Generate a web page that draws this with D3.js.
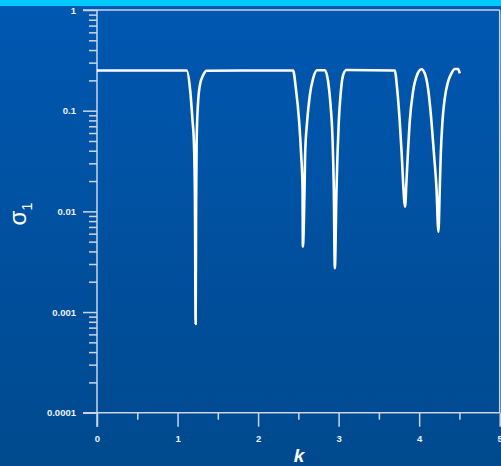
<!DOCTYPE html>
<html>
<head>
<meta charset="utf-8">
<script src="https://cdn.jsdelivr.net/npm/d3@7"></script>
<style>
  html, body { margin: 0; padding: 0; overflow: hidden; }
  svg { display: block; }
</style>
</head>
<body>
<script>
// Wave number k and the singular value sigma_1 (log scale)
const kValues = [
  0, 1.113, 1.154, 1.187, 1.203, 1.216, 1.2246, 1.231, 1.237, 1.253, 1.278, 1.319, 1.361,
  2.435, 2.469, 2.510, 2.535, 2.552, 2.556, 2.577, 2.584, 2.609, 2.643, 2.684, 2.733,
  2.829, 2.870, 2.900, 2.924, 2.940, 2.953, 2.974, 2.986, 3.002, 3.024, 3.056, 3.098,
  3.697, 3.726, 3.759, 3.784, 3.800, 3.825, 3.842, 3.859, 3.883, 3.924, 3.974, 4.029,
  4.069, 4.110, 4.153, 4.185, 4.215, 4.239, 4.256, 4.268, 4.289, 4.318, 4.359, 4.401,
  4.442, 4.483, 4.504
];
const sigmaValues = [
  0.2506, 0.2506, 0.168, 0.0778, 0.0492, 0.0130, 0.000762, 0.0130, 0.0492, 0.1139, 0.180, 0.226, 0.2495,
  0.2506, 0.167, 0.0778, 0.0363, 0.01707, 0.00446, 0.01707, 0.0363, 0.0778, 0.1432, 0.2098, 0.2518,
  0.2518, 0.194, 0.1139, 0.0536, 0.01707, 0.00272, 0.01707, 0.0363, 0.0778, 0.1432, 0.226, 0.2535,
  0.2506, 0.167, 0.0778, 0.0363, 0.0197, 0.01113, 0.0197, 0.0363, 0.0778, 0.1545, 0.226, 0.2577,
  0.235, 0.167, 0.0778, 0.0363, 0.01707, 0.00628, 0.01707, 0.0363, 0.0778, 0.1327, 0.194, 0.235,
  0.2594, 0.2594, 0.235
];
const xTicks = [0, 1, 2, 3, 4, 5];
const xMinorTicks = [0.5, 1.5, 2.5, 3.5, 4.5];
const yTicks = [1, 0.1, 0.01, 0.001, 0.0001];
const yTickLabels = ["1", "0.1", "0.01", "0.001", "0.0001"];

const W = 501, H = 466;
const margin = { left: 97, right: 1.3, top: 10, bottom: 53.3 };
const tickColor = "#c9d6ea";

const svg = d3.select("body").append("svg").attr("width", W).attr("height", H);

// Background: blue gradient with a cyan strip across the top
const defs = svg.append("defs");
const grad = defs.append("linearGradient").attr("id", "bg").attr("x1", 0).attr("y1", 0).attr("x2", 0).attr("y2", 1);
grad.append("stop").attr("offset", "0%").attr("stop-color", "#0058b1");
grad.append("stop").attr("offset", "100%").attr("stop-color", "#00498e");
svg.append("rect").attr("width", W).attr("height", H).attr("fill", "url(#bg)");
svg.append("rect").attr("width", W).attr("height", 6).attr("fill", "#00c9fe");

const x = d3.scaleLinear().domain([0, 5]).range([margin.left, W - margin.right]);
const y = d3.scaleLog().domain([0.0001, 1]).range([H - margin.bottom, margin.top]);

const g = svg.append("g");

// Frame: top and right borders
g.append("line").attr("x1", 83).attr("x2", x(5)).attr("y1", y(1)).attr("y2", y(1))
  .attr("stroke", tickColor).attr("stroke-width", 1.5);
g.append("line").attr("x1", x(5)).attr("x2", x(5)).attr("y1", y(1)).attr("y2", y(0.0001))
  .attr("stroke", tickColor).attr("stroke-width", 1.5);

// Y axis (log), major and minor ticks drawn outward to the left
const yAxis = d3.axisLeft(y)
  .tickValues(yTicks)
  .tickSize(14)
  .tickPadding(7)
  .tickFormat((d, i) => yTickLabels[i]);
const yMinor = [];
[0.0001, 0.001, 0.01, 0.1].forEach(dec => { for (let m = 2; m <= 9; m++) yMinor.push(dec * m); });
const yMinorAxis = d3.axisLeft(y).tickValues(yMinor).tickSize(8).tickFormat("");

const yg = g.append("g").attr("transform", `translate(${x(0)},0)`).call(yAxis);
const ygm = g.append("g").attr("transform", `translate(${x(0)},0)`).call(yMinorAxis);

// X axis
const xAxis = d3.axisBottom(x).tickValues(xTicks).tickSize(14).tickPadding(9).tickFormat(d3.format("d"));
const xMinorAxis = d3.axisBottom(x).tickValues(xMinorTicks).tickSize(7).tickFormat("");
const xg = g.append("g").attr("transform", `translate(0,${y(0.0001)})`).call(xAxis);
const xgm = g.append("g").attr("transform", `translate(0,${y(0.0001)})`).call(xMinorAxis);

[yg, ygm, xg, xgm].forEach(a => {
  a.select(".domain").remove();
  a.selectAll(".tick line").attr("stroke", tickColor).attr("stroke-width", 1.5);
  a.selectAll(".tick text")
    .attr("fill", "#eef3fa")
    .style("font-family", "'Liberation Sans', Arial, sans-serif")
    .style("font-size", "9.5px")
    .style("font-weight", "bold");
});

// Axis lines
g.append("line").attr("x1", x(0)).attr("x2", x(0)).attr("y1", y(1)).attr("y2", y(0.0001) + 14)
  .attr("stroke", tickColor).attr("stroke-width", 1.5);
g.append("line").attr("x1", 83).attr("x2", x(5)).attr("y1", y(0.0001)).attr("y2", y(0.0001))
  .attr("stroke", tickColor).attr("stroke-width", 1.5);

// Curve
const pts = kValues.map((k, i) => [k, sigmaValues[i]]);
const line = d3.line().x(d => x(d[0])).y(d => y(d[1])).curve(d3.curveMonotoneX);
g.append("path").datum(pts).attr("d", line)
  .attr("fill", "none").attr("stroke", "#ffffff").attr("stroke-width", 2.6)
  .attr("stroke-linejoin", "round");

// Axis titles
svg.append("text")
  .attr("x", 299).attr("y", 462)
  .attr("text-anchor", "middle")
  .attr("fill", "#ffffff")
  .style("font-family", "'Liberation Sans', Arial, sans-serif")
  .style("font-size", "19px").style("font-weight", "bold").style("font-style", "italic")
  .text("k");

const yt = svg.append("text")
  .attr("transform", "translate(26,214) rotate(-90)")
  .attr("text-anchor", "middle")
  .attr("fill", "#ffffff")
  .style("font-family", "'Liberation Sans', Arial, sans-serif")
  .style("font-size", "24px");
yt.append("tspan").text("σ");
yt.append("tspan").attr("dy", 6).style("font-size", "15px").text("1");
</script>
</body>
</html>
